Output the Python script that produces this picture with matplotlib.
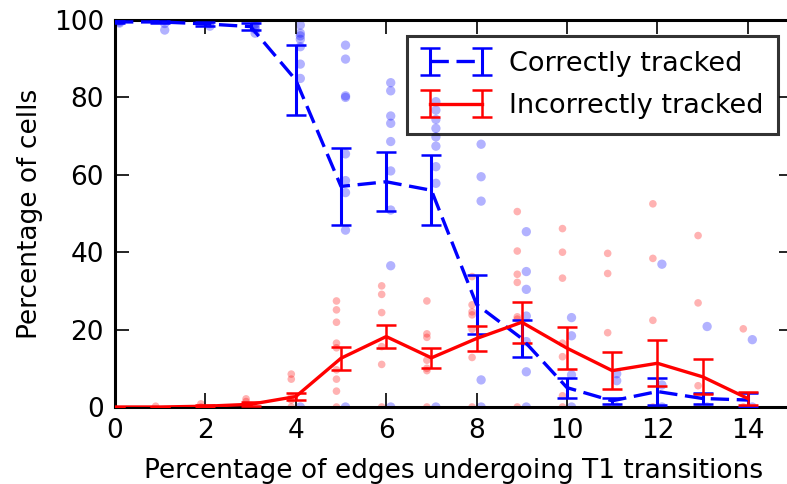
import matplotlib
matplotlib.use('Agg')
import matplotlib.pyplot as plt

# mean percentage per T1 level
t1_pct = [0, 1, 2, 3, 4, 5, 6, 7, 8, 9, 10, 11, 12, 13, 14]
correct_mean = [99.5, 99.5, 99.0, 98.3, 84.5, 57.0, 58.2, 56.0, 26.5, 17.7, 5.0, 1.6, 4.0, 2.2, 1.8]
correct_err = [0.3, 0.3, 0.5, 0.8, 9.0, 10.0, 7.6, 9.0, 7.6, 4.7, 2.6, 0.8, 3.5, 1.5, 1.7]
incorrect_mean = [0.0, 0.0, 0.2, 0.7, 2.7, 12.6, 18.2, 12.7, 17.7, 21.9, 15.2, 9.4, 11.3, 7.8, 2.2]
incorrect_err = [0.0, 0.0, 0.2, 0.5, 1.0, 3.0, 3.0, 2.5, 3.2, 5.3, 5.4, 4.7, 5.9, 4.5, 1.6]

# individual runs
correct_runs = [
    [100, 100, 99.5, 99.2],
    [100, 99.1, 97.4],
    [100, 99.1, 98.4],
    [99, 98.3, 97.6, 96.6],
    [98.7, 96.6, 95.9, 95.0, 93.1, 88.6, 84.9, 0],
    [93.5, 89.9, 80.4, 80.0, 65.4, 58.5, 55.4, 45.7, 0],
    [83.8, 81.7, 75.2, 73.3, 68.6, 61.0, 50.9, 36.5, 0],
    [78.9, 76.7, 74.3, 72.0, 69.8, 67.4, 62.1, 57.8, 0],
    [67.9, 59.5, 53.2, 7.0, 0],
    [45.3, 35.0, 30.4, 23.5, 16.9, 9.1, 0],
    [23.1, 18.4, 8.3, 0],
    [8.6, 6.8, 0],
    [36.9, 5.7, 0],
    [20.8, 0],
    [17.4, 0],
]
incorrect_runs = [
    [0],
    [0.2],
    [0.8, 0],
    [2.1, 1.4, 0],
    [8.5, 7.2, 2.7, 1.8, 0],
    [27.4, 25.1, 21.9, 16.5, 15.3, 9.6, 7.2, 4.1, 0],
    [31.3, 29.1, 24.4, 15.6, 11.0, 0],
    [27.4, 18.9, 18.0, 12.1, 10.0, 9.4, 0],
    [33.7, 26.4, 24.6, 23.8, 20.1, 12.8, 0],
    [50.5, 40.3, 34.3, 32.2, 23.3, 22.7, 0],
    [46.1, 40.0, 33.3, 16.5, 13.0, 2.9, 0],
    [39.7, 34.5, 19.2, 0],
    [52.5, 38.4, 22.4, 0],
    [44.3, 26.9, 5.5, 0],
    [20.2, 0],
]

W, H = 787, 484
fig = plt.figure(figsize=(W / 100, H / 100), dpi=100)
ax = fig.add_axes([115 / W, 77 / H, (793 - 115) / W, 387 / H])

for x, runs in zip(t1_pct, correct_runs):
    ax.scatter([x + 0.1] * len(runs), runs, s=45, color='blue', alpha=0.3,
               edgecolors='none', zorder=1)
for x, runs in zip(t1_pct, incorrect_runs):
    ax.scatter([x - 0.1] * len(runs), runs, s=30, color='red', alpha=0.3,
               edgecolors='none', zorder=1)

ax.errorbar(t1_pct, correct_mean, yerr=correct_err, color='blue', lw=2.4,
            ls=(0, (5.5, 2.3)), capsize=7, capthick=1.8, elinewidth=2.2,
            label='Correctly tracked', zorder=3)
ax.errorbar(t1_pct, incorrect_mean, yerr=incorrect_err, color='red', lw=2.4,
            capsize=7, capthick=1.8, elinewidth=1.8,
            label='Incorrectly tracked', zorder=3)

ax.set_xlim(0, 15)
ax.set_ylim(0, 100)
ax.set_xticks(range(0, 15, 2))
ax.set_yticks(range(0, 101, 20))
ax.tick_params(direction='in', length=10, width=1.2, top=True, right=True,
               labelsize=19, pad=8)
for s in ax.spines.values():
    s.set_linewidth(2.2)

ax.set_xlabel('Percentage of edges undergoing T1 transitions', fontsize=19, labelpad=10)
ax.set_ylabel('Percentage of cells', fontsize=19, labelpad=8)

leg = ax.legend(loc='upper right', bbox_to_anchor=(778 / W, 1 - 36 / H),
                bbox_transform=fig.transFigure, borderaxespad=0, fontsize=19.5,
                numpoints=2, handlelength=2.5, handletextpad=0.7,
                labelspacing=0.6, borderpad=0.55, fancybox=False)
leg.get_frame().set_facecolor('none')
leg.get_frame().set_edgecolor('black')
leg.get_frame().set_linewidth(2.2)

fig.savefig('out.png', dpi=100)
